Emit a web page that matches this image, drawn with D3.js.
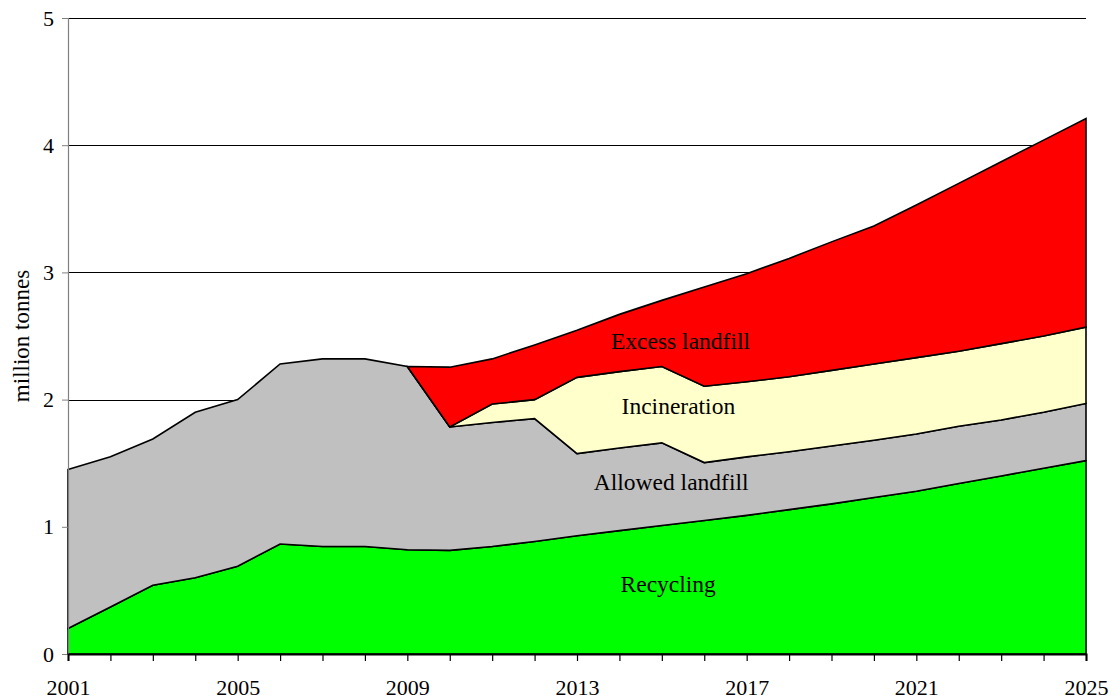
<!DOCTYPE html>
<html>
<head>
<meta charset="utf-8">
<script src="https://cdn.jsdelivr.net/npm/d3@7"></script>
<style>
  html, body { margin: 0; padding: 0; background: #fff; }
  svg { display: block; }
  text { font-family: "Liberation Serif", "Times New Roman", serif; fill: #000; }
</style>
</head>
<body>
<svg id="chart" width="1120" height="700"></svg>
<script>
// ---- data ----
const years = [2001,2002,2003,2004,2005,2006,2007,2008,2009,2010,2011,2012,2013,
               2014,2015,2016,2017,2018,2019,2020,2021,2022,2023,2024,2025];
const recycling = [0.20,0.37,0.54,0.60,0.69,0.865,0.845,0.845,0.82,0.815,0.845,0.885,0.93,
                   0.97,1.01,1.05,1.09,1.135,1.18,1.23,1.28,1.34,1.40,1.46,1.52];
const allowedLandfill = [1.25,1.18,1.15,1.30,1.31,1.415,1.475,1.475,1.44,0.97,0.975,0.965,0.645,
                         0.65,0.65,0.455,0.46,0.455,0.455,0.45,0.45,0.45,0.44,0.44,0.45];
const incineration = [0,0,0,0,0,0,0,0,0,0,0.145,0.15,0.60,
                      0.60,0.60,0.60,0.59,0.59,0.595,0.60,0.60,0.59,0.60,0.60,0.60];
const excessLandfill = [0,0,0,0,0,0,0,0,0,0.47,0.355,0.43,0.37,
                        0.45,0.52,0.78,0.85,0.93,1.01,1.085,1.20,1.32,1.43,1.54,1.64];
const seriesNames = ["Recycling","Allowed landfill","Incineration","Excess landfill"];
const seriesColors = ["#00ff00","#c0c0c0","#ffffcc","#ff0000"];
const yTicks = [0,1,2,3,4,5];
const xLabelYears = [2001,2005,2009,2013,2017,2021,2025];
const yTitle = "million tonnes";
// label anchor positions (year, value) for in-area labels
const labelYears = [2015.15, 2015.22, 2015.39, 2015.44];
const labelValues = [0.49, 1.29, 1.89, 2.40];

// ---- layout ----
const W = 1120, H = 700;
const margin = {left: 68, right: 34, top: 18, bottom: 46};
const svg = d3.select("#chart");

const x = d3.scaleLinear().domain([2001, 2025]).range([margin.left, W - margin.right]);
const y = d3.scaleLinear().domain([0, 5]).range([H - margin.bottom, margin.top]);

const table = years.map((yr, i) => ({
  year: yr,
  "Recycling": recycling[i],
  "Allowed landfill": allowedLandfill[i],
  "Incineration": incineration[i],
  "Excess landfill": excessLandfill[i]
}));
const stacked = d3.stack().keys(seriesNames)(table);

// gridlines
svg.append("g")
  .selectAll("line")
  .data(yTicks.filter(t => t > 0))
  .join("line")
  .attr("x1", x(2001)).attr("x2", x(2025))
  .attr("y1", d => Math.round(y(d)) + 0.5).attr("y2", d => Math.round(y(d)) + 0.5)
  .attr("stroke", "#000").attr("stroke-width", 1);

// areas
const area = d3.area()
  .x(d => x(d.data.year))
  .y0(d => y(d[0]))
  .y1(d => y(d[1]));

svg.append("g")
  .selectAll("path")
  .data(stacked)
  .join("path")
  .attr("d", (s) => {
    if (s.key === "Incineration" || s.key === "Excess landfill") {
      return area(s.filter(d => d.data.year >= 2009));
    }
    return area(s);
  })
  .attr("fill", (s, i) => seriesColors[i])
  .attr("stroke", "#000")
  .attr("stroke-width", 1.6)
  .attr("stroke-linejoin", "miter");

// y axis
const yAxis = svg.append("g")
  .attr("transform", `translate(${margin.left},0)`)
  .call(d3.axisLeft(y).tickValues(yTicks).tickFormat(d3.format("d")).tickSize(6).tickPadding(8));
yAxis.select(".domain").attr("stroke", "#808080").attr("stroke-width", 1.2);
yAxis.selectAll(".tick line").attr("stroke", "#808080");
yAxis.selectAll("text").attr("font-size", 22).style("font-family", "Liberation Serif");

// x axis
const xAxis = svg.append("g")
  .attr("transform", `translate(0,${y(0)})`)
  .call(d3.axisBottom(x).tickValues(years).tickFormat(d => xLabelYears.includes(d) ? d : "")
        .tickSize(7).tickPadding(18));
xAxis.select(".domain").attr("stroke", "#000").attr("stroke-width", 2);
xAxis.selectAll(".tick line").attr("stroke", "#000").attr("stroke-width", 1.2);
xAxis.selectAll("text").attr("font-size", 22).style("font-family", "Liberation Serif");

// y title
svg.append("text")
  .attr("transform", `translate(24,${(y(0) + y(5)) / 2}) rotate(-90)`)
  .attr("text-anchor", "middle")
  .attr("dominant-baseline", "middle")
  .attr("font-size", 23)
  .text(yTitle);

// in-area labels
svg.append("g")
  .selectAll("text")
  .data(seriesNames)
  .join("text")
  .attr("x", (d, i) => x(labelYears[i]))
  .attr("y", (d, i) => y(labelValues[i]))
  .attr("text-anchor", "middle")
  .attr("font-size", 23.5)
  .text(d => d);
</script>
</body>
</html>
